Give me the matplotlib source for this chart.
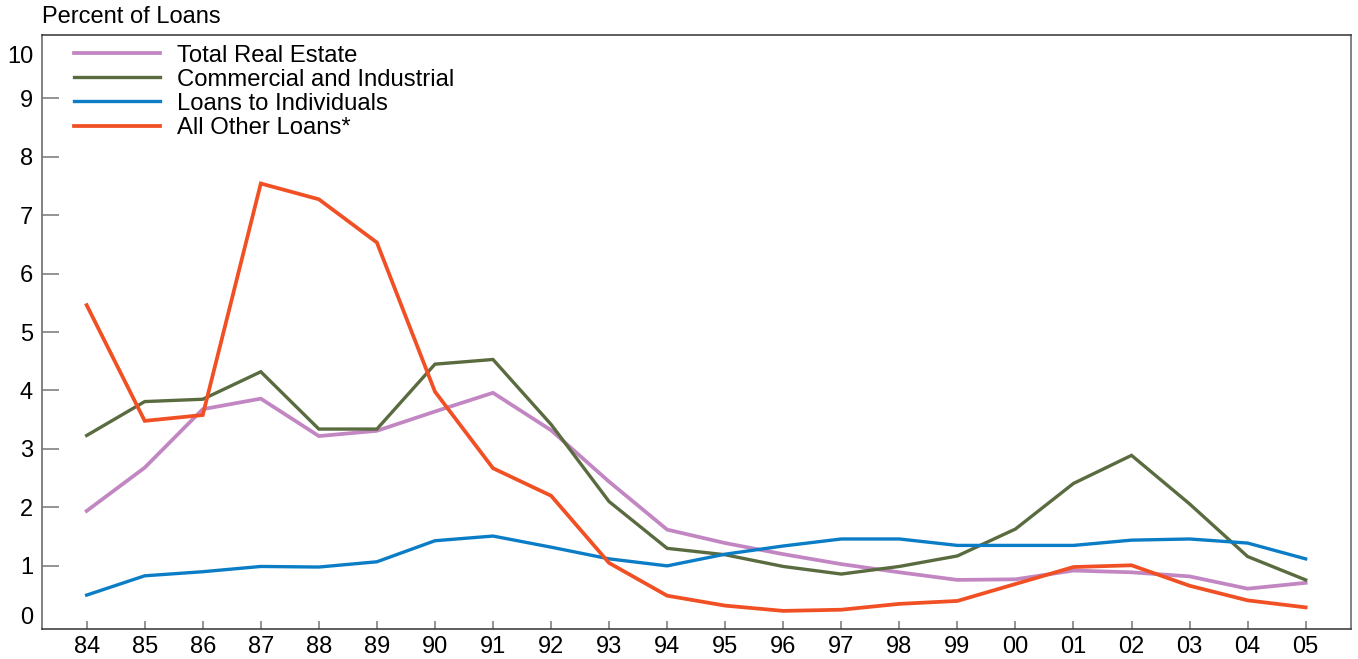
import numpy as np
import matplotlib
matplotlib.use("Agg")
import matplotlib.pyplot as plt
import matplotlib.transforms as mtransforms

plt.rcParams['font.family'] = ['Liberation Sans', 'DejaVu Sans']

# Data (percent of loans)
years = ['84', '85', '86', '87', '88', '89', '90', '91', '92', '93', '94',
         '95', '96', '97', '98', '99', '00', '01', '02', '03', '04', '05']
total_real_estate = [1.94, 2.68, 3.68, 3.86, 3.22, 3.31, 3.64, 3.96, 3.32, 2.44, 1.62,
                     1.39, 1.20, 1.03, 0.89, 0.76, 0.77, 0.92, 0.89, 0.82, 0.61, 0.71]
commercial_industrial = [3.23, 3.81, 3.85, 4.32, 3.34, 3.34, 4.45, 4.53, 3.42, 2.10, 1.30,
                         1.19, 0.99, 0.86, 0.99, 1.17, 1.63, 2.41, 2.89, 2.06, 1.16, 0.76]
loans_individuals = [0.50, 0.83, 0.90, 0.99, 0.98, 1.07, 1.43, 1.51, 1.32, 1.12, 1.00,
                     1.20, 1.34, 1.46, 1.46, 1.35, 1.35, 1.35, 1.44, 1.46, 1.39, 1.12]
all_other = [5.46, 3.48, 3.58, 7.54, 7.27, 6.53, 3.98, 2.67, 2.20, 1.05, 0.49,
             0.32, 0.23, 0.25, 0.35, 0.40, 0.69, 0.98, 1.01, 0.66, 0.41, 0.29]

series = [
    ('Total Real Estate', total_real_estate, '#c287c2', 2.7),
    ('Commercial and Industrial', commercial_industrial, '#5a6b3f', 2.4),
    ('Loans to Individuals', loans_individuals, '#0a7dc6', 2.4),
    ('All Other Loans*', all_other, '#f05023', 2.7),
]

fig = plt.figure(figsize=(13.58, 6.59), dpi=100)
ax = fig.add_axes([0.0309, 0.0455, 0.9639, 0.9014])

x = np.arange(len(years))
for label, vals, color, lw in series:
    ax.plot(x, vals, color=color, lw=lw, label=label, solid_joinstyle='miter')

ax.set_xlim(-0.77, 21.78)
ax.set_ylim(-0.08, 10.08)
ax.set_xticks(x)
ax.set_xticklabels(years)
ax.set_yticks(range(1, 10))

ax.tick_params(axis='y', direction='in', length=12.5, width=1.1, color='#777777',
               labelsize=17, pad=6.5)
ax.tick_params(axis='x', direction='in', length=6, width=1.1, color='#777777',
               labelsize=17, pad=5)

# end labels with no tick marks
trans = mtransforms.blended_transform_factory(ax.transAxes, ax.transData)
ax.text(-0.0068, 9.70, '10', transform=trans, ha='right', va='center', fontsize=17)
ax.text(-0.0068, 0.11, '0', transform=trans, ha='right', va='center', fontsize=17)

for side in ['left', 'right']:
    ax.spines[side].set_color('#777777')
    ax.spines[side].set_linewidth(1.3)
for side in ['top', 'bottom']:
    ax.spines[side].set_color('#333333')
    ax.spines[side].set_linewidth(1.1)

ax.legend(loc='upper left', bbox_to_anchor=(0.0168, 1.0), frameon=False, fontsize=17.2,
          handlelength=3.62, handletextpad=0.72, labelspacing=0.09,
          borderaxespad=0.2, borderpad=0.2)

fig.text(0.0309, 1 - 17 / 659, 'Percent of Loans', fontsize=17, ha='left', va='center')

fig.savefig('out.png', dpi=100)
